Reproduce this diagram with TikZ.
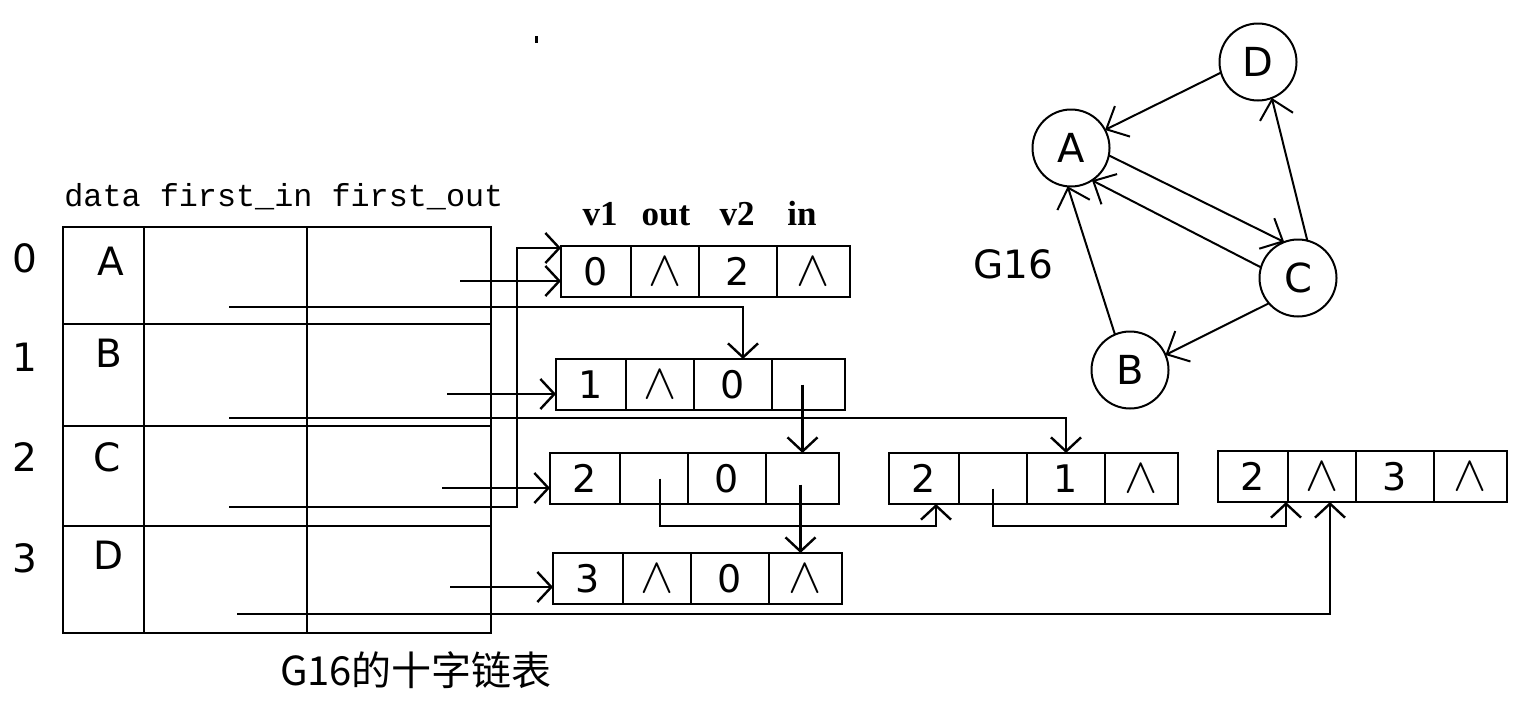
\documentclass[tikz,border=0pt]{standalone}
\usepackage{fontspec}
\setmainfont{DejaVu Sans}
\newfontfamily\monof{Liberation Mono}
\newfontfamily\seriff{Liberation Serif}
\newfontfamily\cjk{Noto Sans CJK SC}
\usetikzlibrary{arrows.meta}
\newcommand{\nil}{{\fontsize{24}{24}\selectfont$\wedge$}}
\newcommand{\ebox}[7]{%
  \node[cellf, minimum width=35pt] (#1a) at (#2,#3) {#4};
  \node[cellf, minimum width=34pt] (#1b) at (#1a.north east) {#5};
  \node[cellf, minimum width=39pt] (#1c) at (#1b.north east) {#6};
  \node[cellf, minimum width=36.5pt] (#1d) at (#1c.north east) {#7};
}
\begin{document}
\begin{tikzpicture}[x=0.5pt,y=-0.5pt,
  box/.style={draw, line width=1.3pt, inner sep=0pt, outer sep=0pt, anchor=north west},
  cellf/.style={box, minimum height=25.5pt, font=\fontsize{19}{19}\selectfont},
  lab/.style={inner sep=0pt, font=\fontsize{19.5}{19.5}\selectfont},
  hdr/.style={anchor=base, inner sep=0pt, font=\seriff\bfseries\fontsize{17.5}{17.5}\selectfont},
  ptr/.style={line width=1.2pt, -{Straight Barb[length=7pt,width=15pt]}},
  vert/.style={circle, draw, line width=1pt, minimum size=38.5pt, inner sep=0pt, outer sep=0pt, font=\fontsize{20}{20}\selectfont},
  garr/.style={line width=1pt, -{Straight Barb[length=9pt,width=17pt]}}
]
\useasboundingbox (0,0) rectangle (1524,702);
\fill (535,36) rectangle (538,43);

% vertex table
\foreach \r/\y/\h in {0/227/97,1/324/102,2/426/100,3/526/107}{
  \node[box, minimum width=40.5pt, minimum height=\h*0.5pt] (t\r-a) at (63,\y) {};
  \node[box, minimum width=81.5pt, minimum height=\h*0.5pt] (t\r-b) at (144,\y) {};
  \node[box, minimum width=92pt, minimum height=\h*0.5pt] (t\r-c) at (307,\y) {};
}
\node[anchor=base west, inner sep=0pt, font=\monof\fontsize{15.9}{15.9}\selectfont] (thead) at (64,206) {data first\_in first\_out};
\node[lab] (r0) at (25,258) {0};
\node[lab] (r1) at (25,357) {1};
\node[lab] (r2) at (25,457) {2};
\node[lab] (r3) at (25,558) {3};
\node[lab] (dA) at (111,261) {A};
\node[lab] (dB) at (109,353) {B};
\node[lab] (dC) at (107,457) {C};
\node[lab] (dD) at (109,555) {D};

% edge header
\node[hdr] (h1) at (600,225) {v1};
\node[hdr] (h2) at (666,225) {out};
\node[hdr] (h3) at (737,225) {v2};
\node[hdr] (h4) at (802,225) {in};

% edge boxes
\ebox{e0}{561}{246}{0}{\nil}{2}{\nil}
\ebox{e1}{556}{359}{1}{\nil}{0}{}
\ebox{e2}{550}{453}{2}{}{0}{}
\ebox{e3}{553}{553}{3}{\nil}{0}{\nil}
\ebox{e21}{889}{453}{2}{}{1}{\nil}
\ebox{e23}{1218}{451}{2}{\nil}{3}{\nil}

% pointer start points
\coordinate (s0o) at (460,281);
\coordinate (s0i) at (229,307);
\coordinate (s1o) at (447,394);
\coordinate (s1i) at (229,418);
\coordinate (s2o) at (442,488);
\coordinate (s2i) at (229,507);
\coordinate (k2) at (517,248);
\coordinate (s3o) at (450,587);
\coordinate (s3i) at (237,614);
\coordinate (low) at (0,526);
\coordinate (p2o) at ([xshift=3pt]e2b.center);
\coordinate (p21o) at ([yshift=-5pt]e21b.center);
\coordinate (p2i) at ([yshift=-3pt,xshift=-1pt]e2d.center);

\draw[ptr] (s0o) -- (s0o -| e0a.west);
\draw[ptr] (s0i) -| ([xshift=5pt]e1c.north);
\draw[ptr] (s1o) -- (s1o -| e1a.west);
\draw[ptr] (s1i) -| (e21c.north);
\draw[ptr] (s2o) -- (s2o -| e2a.west);
\draw[ptr] (s2i) -| (k2) -- (k2 -| e0a.west);
\draw[ptr] (s3o) -- (s3o -| e3a.west);
\draw[ptr] (s3i) -| ([xshift=4pt]e23b.south);
\draw[ptr] (e2d.north |- e1d.center) -- (e2d.north);
\draw[ptr] (p2i) -- (p2i |- e3d.north);
\draw[ptr] (p2o) -- (p2o |- low) -| ([xshift=6pt]e21a.south);
\draw[ptr] (p21o) -- (p21o |- low) -| ([xshift=-1pt]e23a.south east);

% graph
\node[vert] (gA) at (1071,148) {A};
\node[vert] (gD) at (1258,62) {D};
\node[vert] (gC) at (1298,278) {C};
\node[vert] (gB) at (1130,370) {B};
\node[lab] (g16) at (1013,264) {G16};
\draw[garr] (gD.196.6) -- (gA.28.5);
\draw[garr] (gA.349.6) -- (gC.111.8);
\draw[garr] (gC.164.5) -- (gA.303.3);
\draw[garr] (gC.76.7) -- (gD.291.3);
\draw[garr] (gC.221.9) -- (gB.23.4);
\draw[garr] (gB.113.2) -- (gA.265.7);

% caption
\node[inner sep=0pt, font=\cjk\fontsize{20}{20}\selectfont] (cap) at (416,670) {G16的十字链表};
\end{tikzpicture}
\end{document}
